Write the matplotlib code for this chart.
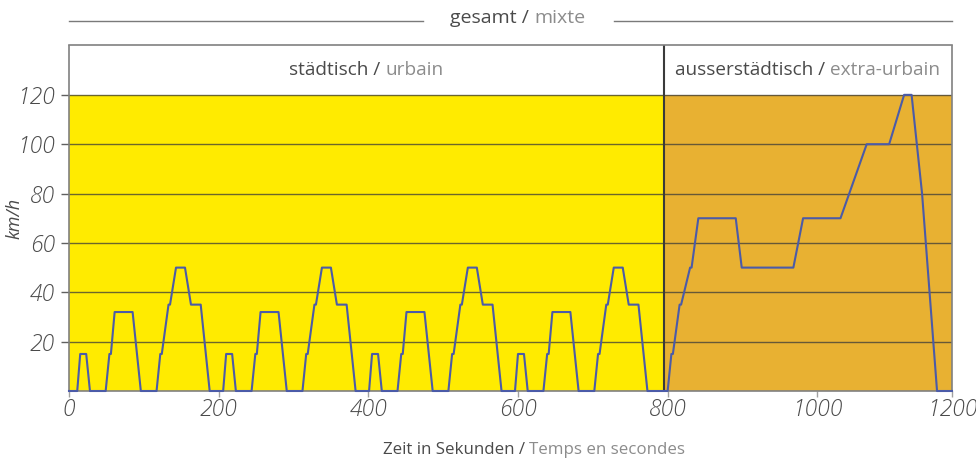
import matplotlib
matplotlib.use("Agg")
import matplotlib.pyplot as plt

# ---- data (NEDC driving cycle) ----
times = [0, 11, 15, 23, 28, 49, 54, 56, 61, 85, 96, 117, 122, 124, 133, 135, 143, 155, 163, 176, 188,
         195, 206, 210, 218, 223, 244, 249, 251, 256, 280, 291, 312, 317, 319, 328, 330, 338, 350, 358, 371, 383,
         390, 401, 405, 413, 418, 439, 444, 446, 451, 475, 486, 507, 512, 514, 523, 525, 533, 545, 553, 566, 578,
         585, 596, 600, 608, 613, 634, 639, 641, 646, 670, 681, 702, 707, 709, 718, 720, 728, 740, 748, 761, 773,
         780, 800, 805, 807, 816, 818, 830, 832, 841, 891, 899, 968, 981, 1031, 1066, 1096, 1116, 1126, 1140, 1160, 1180]
speeds = [0, 0, 15, 15, 0, 0, 15, 15, 32, 32, 0, 0, 15, 15, 35, 35, 50, 50, 35, 35, 0,
          0, 0, 15, 15, 0, 0, 15, 15, 32, 32, 0, 0, 15, 15, 35, 35, 50, 50, 35, 35, 0,
          0, 0, 15, 15, 0, 0, 15, 15, 32, 32, 0, 0, 15, 15, 35, 35, 50, 50, 35, 35, 0,
          0, 0, 15, 15, 0, 0, 15, 15, 32, 32, 0, 0, 15, 15, 35, 35, 50, 50, 35, 35, 0,
          0, 0, 15, 15, 35, 35, 50, 50, 70, 70, 50, 50, 70, 70, 100, 100, 120, 120, 80, 0, 0]

x_end = 1180
split_t = 795
speed_max = 120
header_top = 140
y_ticks = [20, 40, 60, 80, 100, 120]
x_tick_pos = [0, 200, 400, 600, 800, 1000, 1180]
x_tick_labels = ["0", "200", "400", "600", "800", "1000", "1200"]

urban_de, urban_fr = "städtisch / ", "urbain"
extra_de, extra_fr = "ausserstädtisch / ", "extra-urbain"
total_de, total_fr = "gesamt / ", "mixte"
xlabel_de, xlabel_fr = "Zeit in Sekunden / ", "Temps en secondes"
ylabel = "km/h"

# ---- styling ----
plt.rcParams['font.family'] = ['Open Sans', 'DejaVu Sans']
dark = "#4a4a4a"
light = "#8c8c8c"
yellow = "#FFEB00"
orange = "#E8B132"
line_col = "#4B5BA8"

fig = plt.figure(figsize=(9.76, 4.61), dpi=100)
ax = fig.add_axes([69 / 976, 1 - 391 / 461, (952 - 69) / 976, (391 - 45.5) / 461])
ax.set_xlim(0, x_end)
ax.set_ylim(0, header_top)

ax.axvspan(0, split_t, ymin=0, ymax=speed_max / header_top, color=yellow, lw=0, zorder=0)
ax.axvspan(split_t, x_end, ymin=0, ymax=speed_max / header_top, color=orange, lw=0, zorder=0)
for y in y_ticks:
    ax.axhline(y, color="#3a3a3a", lw=1.0, alpha=0.75, zorder=1)
ax.axvline(split_t, color="#3a3a3a", lw=1.5, zorder=2)

ax.plot(times, speeds, color=line_col, lw=1.5, zorder=3, clip_on=False)

for s in ax.spines.values():
    s.set_color("#808080")
    s.set_linewidth(1.2)

ax.set_yticks(y_ticks)
ax.set_yticklabels([str(v) for v in y_ticks])
ax.set_xticks(x_tick_pos)
ax.set_xticklabels(x_tick_labels)
ax.tick_params(axis='y', length=6, width=1, color="#606060", pad=4, labelsize=16.5, labelcolor=dark)
ax.tick_params(axis='x', length=4, width=1, color="#a0a0a0", pad=1, labelsize=16.5, labelcolor=dark)
for lab in ax.get_yticklabels() + ax.get_xticklabels():
    lab.set_fontstyle('italic')
    lab.set_fontweight('light')

fig.canvas.draw()
renderer = fig.canvas.get_renderer()


def two_tone(x, y, t1, t2, size, transform, italic=False):
    """Centered text composed of a dark part and a light part."""
    style = 'italic' if italic else 'normal'
    a = fig.text(0, 0, t1, fontsize=size, color=dark, fontstyle=style)
    b = fig.text(0, 0, t2, fontsize=size, color=light, fontstyle=style)
    wa = a.get_window_extent(renderer).width
    wb = b.get_window_extent(renderer).width
    px, py = transform.transform((x, y))
    left = px - (wa + wb) / 2
    a.set_transform(None)
    b.set_transform(None)
    a.set_position((left, py))
    b.set_position((left + wa, py))
    a.set_va('center')
    b.set_va('center')
    return left, left + wa + wb


# section labels
two_tone(split_t / 2, 130, urban_de, urban_fr, 13.7, ax.transData)
two_tone((split_t + x_end) / 2, 130, extra_de, extra_fr, 13.7, ax.transData)

# overall header with lines
l, r = two_tone(518 / 976, 1 - 18 / 461, total_de, total_fr, 14, fig.transFigure)
yline = 1 - 21.5 / 461
fig.add_artist(plt.Line2D([69 / 976, (l - 27) / 976], [yline, yline], color="#7a7a7a", lw=1))
fig.add_artist(plt.Line2D([(r + 28) / 976, 952 / 976], [yline, yline], color="#7a7a7a", lw=1))

# x label
two_tone(534 / 976, 1 - 450 / 461, xlabel_de, xlabel_fr, 12.2, fig.transFigure)

# y label
fig.text(14 / 976, 1 - 218 / 461, ylabel, rotation=90, fontsize=13, color=dark,
         fontstyle='italic', ha='center', va='center')

fig.savefig("out.png", dpi=100)
